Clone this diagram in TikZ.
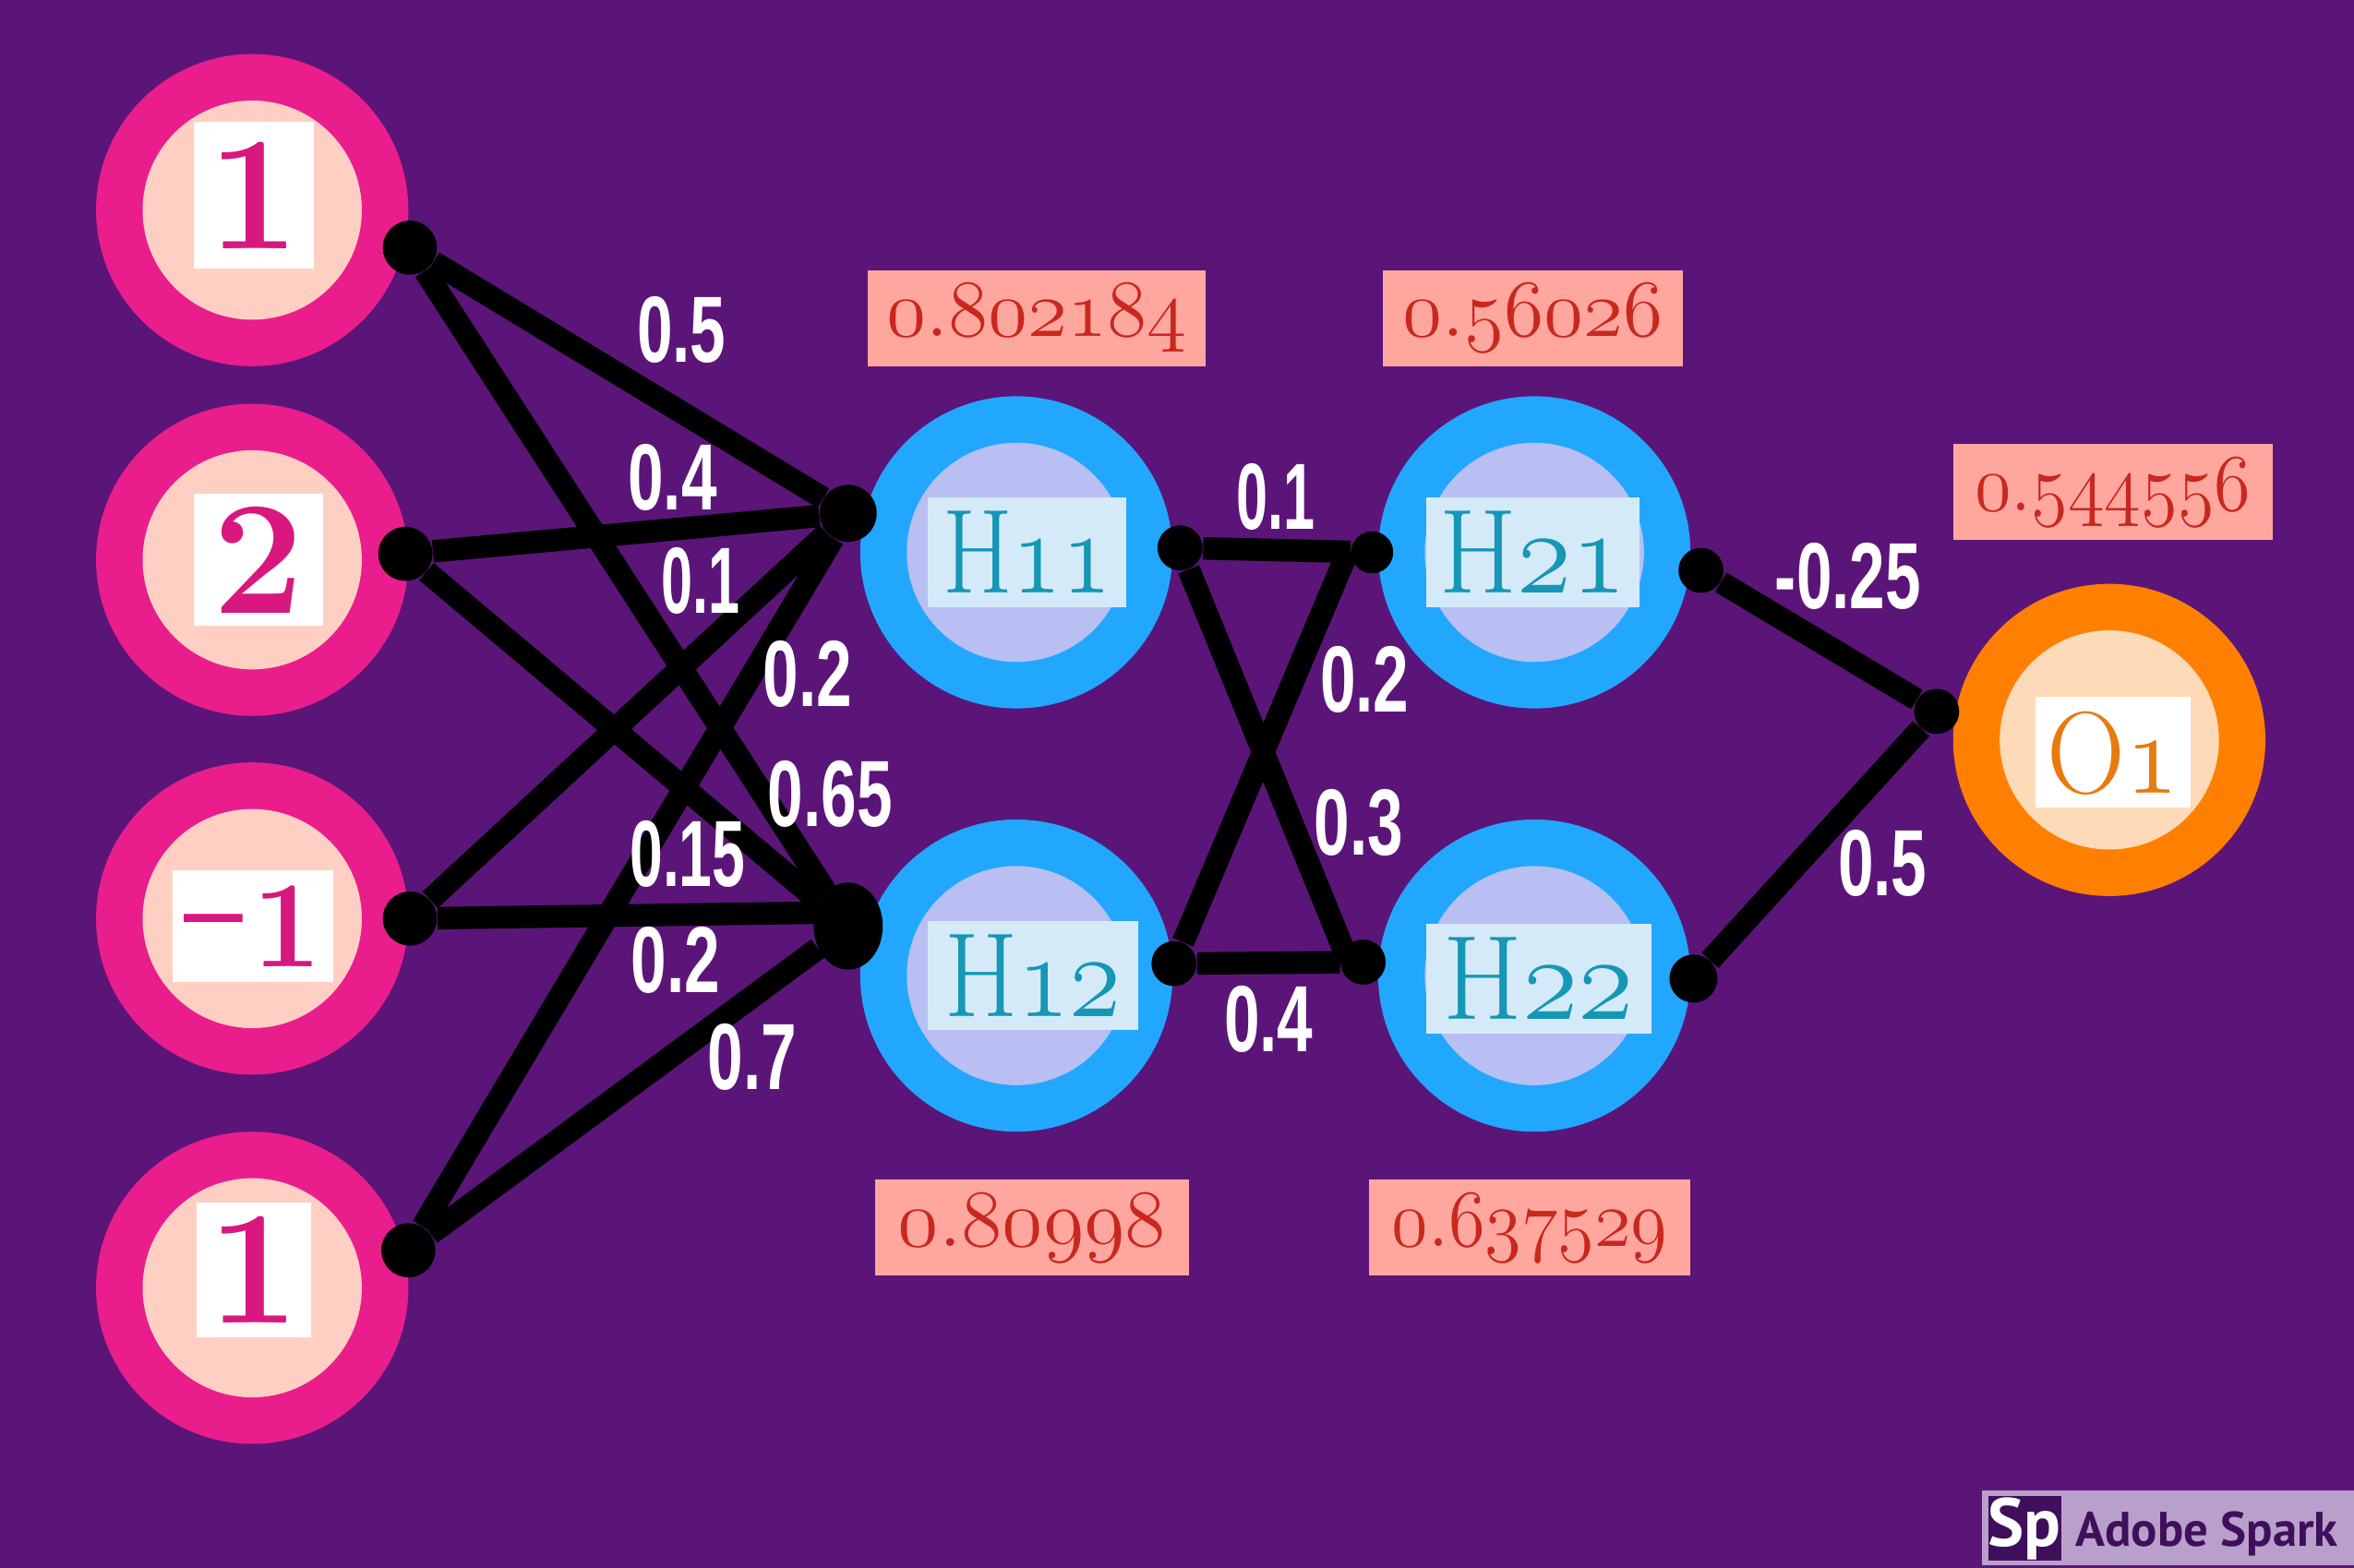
\documentclass[tikz,border=0pt]{standalone}
\usepackage{fix-cm}
\usepackage{fontspec}
\usepackage{graphicx}
\usetikzlibrary{positioning,shapes.geometric}
\newfontfamily\labelfont{Liberation Sans}
\newfontfamily\sparkfont{PT Sans}

\definecolor{bgpurple}{HTML}{5B1578}
\definecolor{ringpink}{HTML}{E91E8C}
\definecolor{corepink}{HTML}{FFCFC4}
\definecolor{inkpink}{HTML}{D8177F}
\definecolor{ringblue}{HTML}{22A7FF}
\definecolor{coreblue}{HTML}{B9BFF2}
\definecolor{tagblue}{HTML}{D5EAF8}
\definecolor{inkblue}{HTML}{1597B5}
\definecolor{ringorange}{HTML}{FF8000}
\definecolor{coreorange}{HTML}{FFDAB9}
\definecolor{inkorange}{HTML}{E87A10}
\definecolor{valbox}{HTML}{FFA79F}
\definecolor{valink}{HTML}{C8281E}
\definecolor{sparkbox}{HTML}{B9A0CB}
\definecolor{sparkdark}{HTML}{3F0F5C}

\def\u{0.1626mm}
\newcommand{\wlab}[2][0.68]{\scalebox{#1}[1]{#2}}
\newcommand{\old}[1]{$\mathnormal{#1}$}

\begin{document}
\begin{tikzpicture}[
  x=\u, y=-\u,
  ring/.style={circle, inner sep=0pt, minimum size={208*\u}},
  core/.style={circle, inner sep=0pt, minimum size={146*\u}},
  tag/.style={inner sep=0pt, text depth=0pt},
  inI/.style={tag, fill=white, text=inkpink, font=\bfseries\fontsize{50}{50}\selectfont},
  hid/.style={tag, fill=tagblue, text=inkblue, minimum height={73*\u}, font=\fontsize{37}{37}\selectfont},
  val/.style={fill=valbox, text=valink, inner sep=0pt, minimum height={64*\u}, font=\fontsize{25}{25}\selectfont},
  dot/.style={circle, fill=black, inner sep=0pt, minimum size={36*\u}},
  wgt/.style={text=white, inner sep=0pt, font=\labelfont\bfseries\fontsize{29}{29}\selectfont},
  edge/.style={line width={15*\u}, black}
]

% -----------------------
% Background
% -----------------------
\fill[bgpurple] (0,0) rectangle (1568,1044.7);
\useasboundingbox (0,0) rectangle (1568,1044.7);

% -----------------------
% Inputs
% -----------------------
\node[ring, fill=ringpink] (i1) at (168,140) {};
\node[ring, fill=ringpink] (i2) at (168,373) {};
\node[ring, fill=ringpink] (i3) at (168,612) {};
\node[ring, fill=ringpink] (i4) at (168,858) {};

\node[core, fill=corepink] (ci1) at (i1) {};
\node[core, fill=corepink] (ci2) at (i2) {};
\node[core, fill=corepink] (ci3) at (i3) {};
\node[core, fill=corepink] (ci4) at (i4) {};

\node[inI, minimum width={80*\u}, minimum height={98*\u}] (ti1) at (169,130) {1};
\node[inI, minimum width={86*\u}, minimum height={88*\u}] (ti2) at (172,373) {2};
\node[inI, minimum width={107*\u}, minimum height={74*\u}, font=\bfseries\fontsize{38}{38}\selectfont] (ti3) at (168.5,617)
  {\raisebox{-.16em}{\scalebox{.85}[2]{--}}\kern.08em 1};
\node[inI, minimum width={76*\u}, minimum height={90*\u}] (ti4) at (169,846) {1};

% -----------------------
% Hidden layers
% -----------------------
\node[ring, fill=ringblue] (h11) at (677,368) {};
\node[ring, fill=ringblue] (h12) at (677,650) {};
\node[ring, fill=ringblue] (h21) at (1022,368) {};
\node[ring, fill=ringblue] (h22) at (1022,650) {};

\node[core, fill=coreblue] (ch11) at (h11) {};
\node[core, fill=coreblue] (ch12) at (h12) {};
\node[core, fill=coreblue] (ch21) at (h21) {};
\node[core, fill=coreblue] (ch22) at (h22) {};

\node[hid, minimum width={132*\u}] (th11) at (684,368) {\scalebox{.84}[1]{H\old{11}}};
\node[hid, minimum width={140*\u}] (th12) at (688,650) {\scalebox{.88}[1]{H\old{12}}};
\node[hid, minimum width={142*\u}] (th21) at (1021,368) {\scalebox{.93}[1]{H\old{21}}};
\node[hid, minimum width={150*\u}] (th22) at (1025,652) {\scalebox{.95}[1]{H\old{22}}};

% -----------------------
% Output
% -----------------------
\node[ring, fill=ringorange] (o1) at (1405,493) {};
\node[core, fill=coreorange] (co1) at (o1) {};
\node[tag, fill=white, text=inkorange, minimum width={103*\u}, minimum height={74*\u},
  font=\fontsize{36}{36}\selectfont] (to1) at (1407.5,501) {\scalebox{.93}[1]{O\old{1}}};

% -----------------------
% Activations
% -----------------------
\node[val, minimum width={225*\u}] (v11) at (690.5,212) {\raisebox{1pt}{\old{0.802184}}};
\node[val, minimum width={200*\u}] (v21) at (1021,212) {\raisebox{1pt}{\old{0.56026}}};
\node[val, minimum width={213*\u}] (vo1) at (1407.5,328) {\raisebox{2pt}{\scalebox{.92}[1]{\old{0.544556}}}};
\node[val, minimum width={209*\u}] (v12) at (687.5,818) {\raisebox{.5pt}{\scalebox{1.03}[1]{\old{0.80998}}}};
\node[val, minimum width={214*\u}] (v22) at (1019,818) {\raisebox{1.5pt}{\scalebox{.92}[1]{\old{0.637529}}}};

% -----------------------
% Connection points
% -----------------------
\node[dot] (s1) at (273,165) {};
\node[dot] (s2) at (270,369) {};
\node[dot] (s3) at (273,612) {};
\node[dot] (s4) at (272,833) {};
\node[dot, minimum size={38*\u}] (a1) at (565,342) {};
\node[ellipse, fill=black, inner sep=0pt, minimum width={46*\u}, minimum height={58*\u}] (a2) at (565,617) {};
\coordinate (a2m) at (550,608);
\node[dot, minimum size={30*\u}] (b1) at (786,365) {};
\node[dot, minimum size={28*\u}] (b2) at (914,368) {};
\coordinate (b2m) at (898,367);
\node[dot, minimum size={30*\u}] (b3) at (782,642) {};
\node[dot, minimum size={30*\u}] (b4) at (908,641) {};
\coordinate (b4m) at (898,640);
\node[dot, minimum size={30*\u}] (c1) at (1133,380) {};
\node[dot, minimum size={32*\u}] (c2) at (1128,652) {};
\node[dot, minimum size={30*\u}] (d1) at (1290,474) {};

\node[wgt] (w2) at (448,318) {\wlab{0.4}};

% -----------------------
% Connections
% -----------------------
\draw[edge] (s1) -- (a1);
\draw[edge] (s1) -- (a2);
\draw[edge] (s2) -- (a1);
\draw[edge] (s2) -- (a2);
\draw[edge] (s3) -- (a1);
\draw[edge] (s3) -- (a2m);
\draw[edge] (s4) -- (a1);
\draw[edge] (s4) -- (a2);

\draw[edge] (b1) -- (b2);
\draw[edge] (b1) -- (b4m);
\draw[edge] (b3) -- (b2m);
\draw[edge] (b3) -- (b4);

\draw[edge] (c1) -- (d1);
\draw[edge] (c2) -- (d1);

% -----------------------
% Weights
% -----------------------
\node[wgt] (w1) at (454,220) {\wlab{0.5}};
\node[wgt] (w3) at (467,387) {\wlab[0.6]{0.1}};
\node[wgt] (w4) at (538,449) {\wlab{0.2}};
\node[wgt] (w5) at (553,529) {\wlab{0.65}};
\node[wgt] (w6) at (458,569) {\wlab[0.63]{0.15}};
\node[wgt] (w7) at (450,640) {\wlab{0.2}};
\node[wgt] (w8) at (501,704) {\wlab{0.7}};
\node[wgt] (w9) at (850,331) {\wlab[0.6]{0.1}};
\node[wgt] (w10) at (909,453) {\wlab{0.2}};
\node[wgt] (w11) at (905,548) {\wlab{0.3}};
\node[wgt] (w12) at (845,679) {\wlab{0.4}};
\node[wgt] (w13) at (1231,384) {\wlab{-0.25}};
\node[wgt] (w14) at (1254,575) {\wlab{0.5}};

% -----------------------
% Badge
% -----------------------
\node[fill=sparkbox, inner sep=0pt, minimum width={248*\u}, minimum height={50*\u}] (badge) at (1444,1018) {};
\node[fill=sparkdark, text=white, inner sep=0pt, minimum size={43*\u},
  font=\sparkfont\bfseries\fontsize{21}{21}\selectfont] (sp) at (1348.5,1018.5) {Sp};
\node[right=9*\u of sp, yshift=-1.5pt, text=sparkdark, inner sep=0pt,
  font=\sparkfont\bfseries\fontsize{15}{15}\selectfont] (spark) {Adobe Spark};

\end{tikzpicture}
\end{document}
